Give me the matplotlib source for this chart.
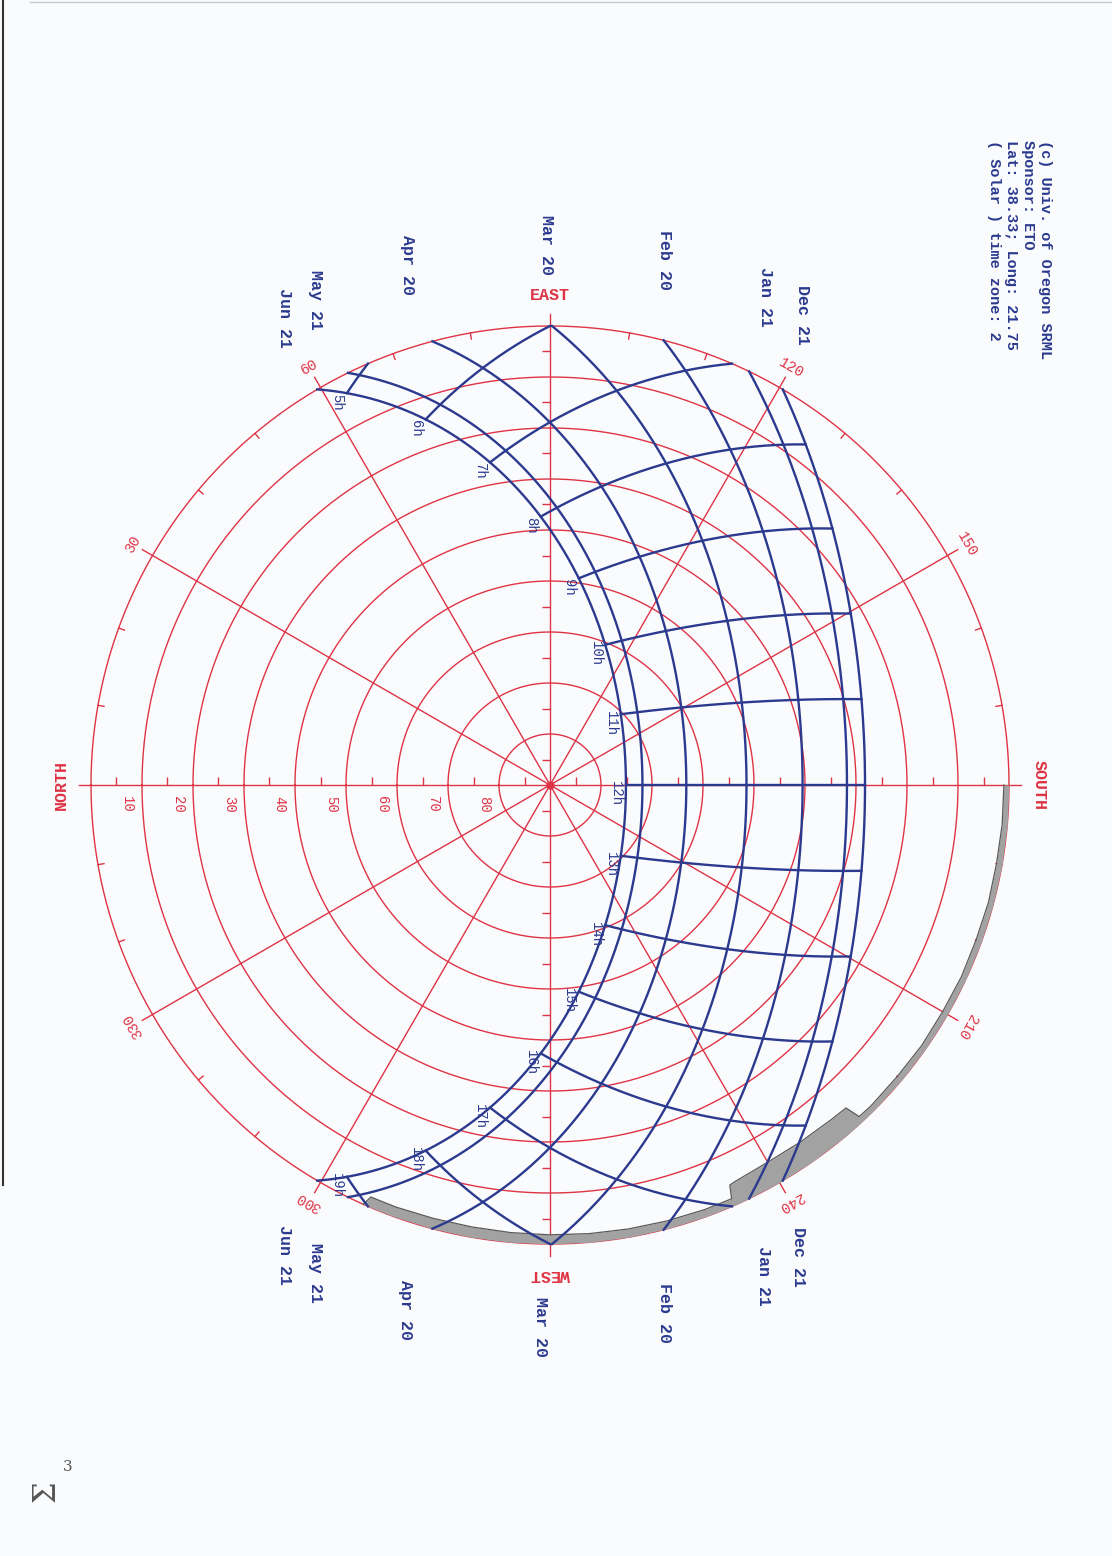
import numpy as np
import matplotlib.pyplot as plt
from matplotlib.lines import Line2D

# site and chart data
LAT = 38.33
date_names = ['Dec 21', 'Jan 21', 'Feb 20', 'Mar 20', 'Apr 20', 'May 21', 'Jun 21']
declinations = [-23.44, -19.9, -11.2, -0.2, 11.6, 20.2, 23.44]
hours = list(range(5, 20))
alt_rings = [0, 10, 20, 30, 40, 50, 60, 70, 80]
alt_ticks = [5, 15, 25, 35, 45, 55, 65, 75, 85]
ring_labels = ['10', '20', '30', '40', '50', '60', '70', '80']
az_lines = [0, 30, 60, 90, 120, 150, 180, 210, 240, 270, 300, 330]
az_labels = [30, 60, 120, 150, 210, 240, 300, 330]
compass_names = ['NORTH', 'EAST', 'SOUTH', 'WEST']
compass_az = [0, 90, 180, 270]
credit_lines = ['(c) Univ. of Oregon SRML', 'Sponsor: ETO',
                'Lat: 38.33; Long: 21.75', '( Solar ) time zone: 2']

# horizon obstruction (azimuth, altitude)
horizon_az = [180, 185, 190, 195, 200, 205, 210, 215, 220, 225, 227, 227.5, 230, 235,
              240, 245, 245.8, 246.3, 250, 255, 260, 265, 270, 275, 280, 285, 290, 293.5, 294]
horizon_alt = [1.0, 1.0, 1.1, 1.0, 1.1, 1.0, 1.1, 1.0, 1.1, 1.0, 1.1, 4.1, 4.3, 4.5,
               4.6, 4.2, 4.0, 1.4, 1.4, 1.5, 1.6, 1.7, 1.8, 1.9, 2.0, 2.0, 1.9, 1.9, 0.0]

RED = '#de3445'
BLUE = '#2b3a8e'
FONT = 'Liberation Mono'

W, H = 1112, 1556
CX, CY, R = 550, 785, 459


def sun_pos(dec, hour):
    phi = np.radians(LAT)
    d = np.radians(dec)
    h = np.radians(15.0 * (np.asarray(hour) - 12.0))
    sin_alt = np.sin(phi) * np.sin(d) + np.cos(phi) * np.cos(d) * np.cos(h)
    alt = np.degrees(np.arcsin(np.clip(sin_alt, -1, 1)))
    az = np.arctan2(-np.cos(d) * np.sin(h),
                    np.sin(d) * np.cos(phi) - np.cos(d) * np.sin(phi) * np.cos(h))
    return np.degrees(az) % 360, alt


def fx(px):
    return px / W


def fy(py):
    return 1 - py / H


fig = plt.figure(figsize=(W / 100, H / 100), dpi=100, facecolor='#fafbfd')
ax = fig.add_axes([fx(CX - R), fy(CY + R), 2 * R / W, 2 * R / H], projection='polar')
ax.set_theta_zero_location('W')
ax.set_theta_direction(-1)
ax.set_ylim(0, 90)
ax.set_xticks([])
ax.set_yticks([])
ax.grid(False)
ax.spines['polar'].set_visible(False)
ax.patch.set_alpha(0)

# red grid
ring_theta = np.linspace(0, 2 * np.pi, 721)
for a in alt_rings:
    ax.plot(ring_theta, np.full_like(ring_theta, 90 - a), color=RED, lw=1.0,
            clip_on=False)
for az in az_lines:
    ax.plot([np.radians(az)] * 2, [0, 92.3], color=RED, lw=1.0, clip_on=False)
for az in range(0, 360, 10):
    if az % 30:
        ax.plot([np.radians(az)] * 2, [88.8, 90], color=RED, lw=1.0, clip_on=False)
for az, mk in zip(compass_az, [2, 0, 2, 0]):
    ax.plot(np.full(len(alt_ticks), np.radians(az)), alt_ticks, ls='none',
            marker=mk, ms=6, mew=1.0, color=RED, clip_on=False)
ax.plot(0, 0, 'o', ms=5, color=RED)

for a, lab in zip(alt_rings[1:], ring_labels):
    ax.annotate(lab, xy=(0, 90 - a + 3), xytext=(0, -14), textcoords='offset points',
                rotation=-90, ha='center', va='center', color=RED, fontsize=10,
                family=FONT)
for az in az_labels:
    ax.text(np.radians(az), 94.5, str(az), rotation=90 - az, ha='center', va='center',
            color=RED, fontsize=10.5, family=FONT, rotation_mode='anchor', clip_on=False)
for name, az in zip(compass_names, compass_az):
    ax.text(np.radians(az), 95.9, name, rotation=90 - az, ha='center', va='center',
            color=RED, fontsize=12, family=FONT, fontweight='bold',
            rotation_mode='anchor', clip_on=False)

# horizon obstruction
h_theta = np.radians(horizon_az)
h_r = 90 - np.array(horizon_alt)
ax.fill_between(h_theta, h_r, 90, color='#a2a2a2', lw=0, zorder=3, clip_on=False)
ax.plot(h_theta, h_r, color='#5a5a5a', lw=0.9, zorder=3, clip_on=False)

# sun paths for each date
for dec in declinations:
    h0 = np.degrees(np.arccos(-np.tan(np.radians(LAT)) * np.tan(np.radians(dec)))) / 15
    t = np.linspace(12 - h0, 12 + h0, 500)
    az, alt = sun_pos(dec, t)
    ax.plot(np.radians(az), 90 - alt, color=BLUE, lw=1.7, zorder=4, clip_on=False)

# hour lines
dmin, dmax = min(declinations), max(declinations)
for hr in hours:
    hh = np.radians(15 * (hr - 12))
    d0 = np.degrees(np.arctan(-np.cos(hh) / np.tan(np.radians(LAT))))
    lo = max(d0, dmin)
    if lo >= dmax:
        continue
    d = np.linspace(lo, dmax, 200)
    az, alt = sun_pos(d, hr)
    ax.plot(np.radians(az), 90 - np.maximum(alt, 0), color=BLUE, lw=1.7, zorder=4,
            clip_on=False)
    jaz, jalt = sun_pos(dmax, hr)
    ax.annotate(f'{hr}h', xy=(np.radians(jaz), 90 - jalt), xytext=(-7, -6.5),
                textcoords='offset points', rotation=-90, ha='center', va='center',
                color=BLUE, fontsize=10, family=FONT, zorder=5)

# date labels outside the circle (pixel centres, top and bottom)
top_pos = [(802, 315), (765, 297), (665, 260), (547, 245), (408, 265), (316, 300), (284, 318)]
bot_pos = [(799, 1257), (764, 1276), (665, 1313), (540, 1327), (406, 1310), (316, 1273), (284, 1255)]
for name, (x1, y1), (x2, y2) in zip(date_names, top_pos, bot_pos):
    for x, y in [(x1, y1), (x2, y2)]:
        fig.text(fx(x), fy(y), name, rotation=-90, ha='center', va='center',
                 color=BLUE, fontsize=12, family=FONT, fontweight='bold')

# credit block
for i, line in enumerate(credit_lines):
    fig.text(fx(1045 - 17 * i), fy(140), line, rotation=-90, ha='center', va='top',
             color=BLUE, fontsize=11, family=FONT, fontweight='bold')

# handwritten mark
fig.text(fx(46), fy(1491), 'Σ', rotation=90, ha='center', va='center',
         color='#555555', fontsize=22, family='DejaVu Serif')
fig.text(fx(68), fy(1467), '3', ha='center', va='center', color='#555555', fontsize=11,
         family='DejaVu Serif')

# scan edges
fig.add_artist(Line2D([fx(3), fx(3)], [fy(0), fy(1185)], color='#333333', lw=1.5))
fig.add_artist(Line2D([fx(30), fx(1112)], [fy(2), fy(2)], color='#c8c8c8', lw=1.0))

fig.savefig('out.png', dpi=100, facecolor=fig.get_facecolor())
